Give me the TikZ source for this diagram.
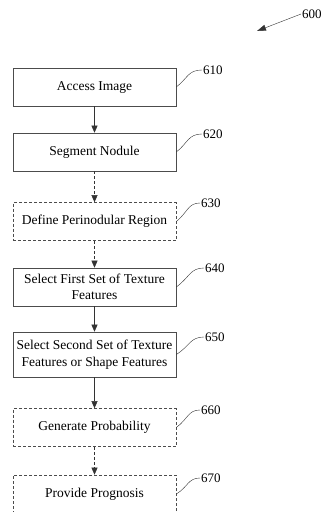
\documentclass[tikz,border=0pt]{standalone}
\usepackage{fontspec}
\setmainfont{Liberation Serif}
\usetikzlibrary{arrows.meta}

\begin{document}
\begin{tikzpicture}[x=1pt, y=-1pt,
  stepbox/.style = {draw, semithick, gray!60!black, text=black, minimum width=163pt,
    minimum height=38pt, align=center, font=\fontsize{13.5}{16.5}\selectfont, inner sep=2pt},
  dashbox/.style = {stepbox, densely dashed},
  flow/.style = {-{Triangle[length=7pt,width=6pt]}, gray!40!black},
  ref/.style = {anchor=west, inner sep=1pt, font=\fontsize{13}{14}\selectfont},
  leader/.style = {gray!40!black}]
  \useasboundingbox (0,0) rectangle (323,512);

  % boxes
  \node[stepbox] (access) at (94.5,87) {Access Image};
  \node[stepbox] (segment) at (94.5,152) {Segment Nodule};
  \node[dashbox] (define) at (94.5,221.5) {Define Perinodular Region};
  \node[stepbox] (first) at (94.5,287) {Select First Set of Texture\\Features};
  \node[stepbox, minimum height=45pt] (second) at (94.5,354.5)
    {Select Second Set of Texture\\Features or Shape Features};
  \node[dashbox] (prob) at (94.5,427.5) {Generate Probability};
  \node[dashbox] (prog) at (94.5,494) {Provide Prognosis};

  % arrows between steps
  \draw[flow] (access) -- (segment);
  \draw[flow, densely dashed] (segment) -- (define);
  \draw[flow, densely dashed] (define) -- (first);
  \draw[flow] (first) -- (second);
  \draw[flow] (second) -- (prob);
  \draw[flow, densely dashed] (prob) -- (prog);

  % reference numerals
  \node[ref] (n600) at (301,14) {600};
  \coordinate (tip600) at (257,31);
  \draw[-{Triangle[length=9pt,width=6pt]}, gray!40!black] (n600.west) -- (tip600);

  \node[ref] (n610) at (202,70) {610};
  \node[ref] (n620) at (202,134) {620};
  \node[ref] (n630) at (200,203) {630};
  \node[ref] (n640) at (204,268) {640};
  \node[ref] (n650) at (204,337) {650};
  \node[ref] (n660) at (200,410) {660};
  \node[ref] (n670) at (200,478) {670};

  \draw[leader] (access.east) .. controls (188,78) and (188,70) .. (n610.west);
  \draw[leader] (segment.east) .. controls (188,143) and (188,134) .. (n620.west);
  \draw[leader] (define.east) .. controls (188,212) and (188,203) .. (n630.west);
  \draw[leader] (first.east) .. controls (190,277) and (190,268) .. (n640.west);
  \draw[leader] (second.east) .. controls (190,346) and (190,337) .. (n650.west);
  \draw[leader] (prob.east) .. controls (188,419) and (188,410) .. (n660.west);
  \draw[leader] (prog.east) .. controls (188,487) and (188,478) .. (n670.west);
\end{tikzpicture}
\end{document}
